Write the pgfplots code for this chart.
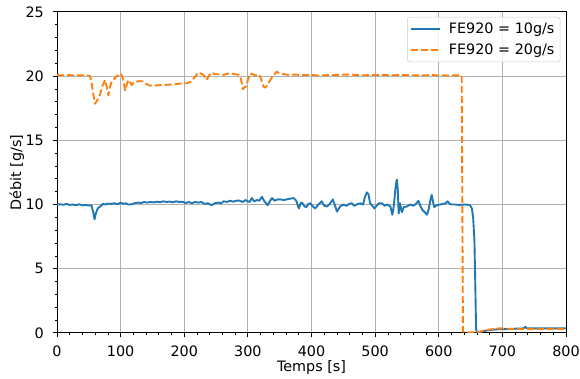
\documentclass[border=0pt]{standalone}
\usepackage{fontspec}
\setmainfont{DejaVu Sans}
\usepackage{pgfplots}
\pgfplotsset{compat=1.18}
\definecolor{Cblue}{HTML}{1F77B4}
\definecolor{Corange}{HTML}{FF7F0E}
\definecolor{gridgray}{HTML}{B0B0B0}
\definecolor{legframe}{HTML}{CCCCCC}
\pgfplotsset{
  legend image code/.code={\draw[#1] (0pt,0pt) -- (23pt,0pt);},
}
\begin{document}
\begin{tikzpicture}[font=\fontsize{11.4}{13.7}\selectfont]
\begin{axis}[
  scale only axis,
  width=404.4pt, height=255pt,
  xmin=0, xmax=800, ymin=0, ymax=25,
  xtick={0,100,...,800}, ytick={0,5,...,25},
  minor x tick num=4, minor y tick num=4,
  grid=major,
  major grid style={color=gridgray, line width=0.8pt},
  tick align=outside, tick pos=left,
  major tick length=3.5pt, minor tick length=2pt,
  major tick style={black, line width=0.8pt},
  minor tick style={black, line width=0.6pt},
  axis line style={black, line width=0.8pt},
  /pgf/number format/assume math mode=true,
  xticklabel style={yshift=-3.5pt},
  yticklabel style={xshift=-3.5pt},
  every axis x label/.style={at={(axis description cs:0.5,0)}, yshift=-27.5pt, anchor=center},
  every axis y label/.style={at={(axis description cs:0,0.5)}, xshift=-31.8pt, rotate=90, anchor=center},
  xlabel={Temps [s]},
  ylabel={Débit [g/s]},
  legend style={at={(rel axis cs:1,1)}, xshift=-4.5pt, yshift=-4pt, anchor=north east,
    draw=legframe, fill=white, fill opacity=0.8, text opacity=1, rounded corners=2pt,
    inner sep=2.5pt, row sep=2.5pt, font=\fontsize{11.4}{13.7}\selectfont,
    /tikz/every odd column/.append style={column sep=4pt}},
  legend cell align=left,
]
\addplot[Cblue, line width=1.5pt, line join=round] table {
t v
0 10.0
5 10.02
10 9.98
15 10.05
20 9.97
25 10.0
30 9.95
35 10.02
40 9.93
45 9.97
50 9.92
54 9.95
57 9.4
59 8.85
61 9.3
64 9.7
68 9.85
72 10.05
76 10.0
80 10.07
85 10.05
90 10.1
95 10.02
100 10.15
104 10.05
108 10.1
112 10.0
117 10.02
122 10.1
127 10.15
132 10.12
137 10.2
142 10.15
147 10.2
152 10.17
157 10.22
162 10.18
167 10.25
172 10.2
177 10.23
182 10.17
187 10.25
192 10.2
197 10.22
202 10.12
207 10.2
212 10.1
217 10.2
222 10.15
227 10.2
232 10.05
237 10.1
243 9.95
248 10.1
253 10.15
258 10.1
262 10.25
267 10.2
272 10.3
277 10.22
282 10.3
287 10.3
292 10.2
296 10.35
300 10.25
303 10.2
306 10.5
310 10.25
314 10.35
318 10.3
322 10.6
326 10.25
331 9.95
335 10.3
338 10.5
342 10.3
347 10.4
351 10.4
356 10.35
361 10.4
366 10.45
372 10.5
376 10.3
380 9.7
383 10.1
385 10.15
389 9.85
392 9.8
395 10.05
398 10.1
401 9.9
405.7 9.7
410 9.95
416 10.25
420 9.9
424 9.85
428 10.0
433.5 10.4
437 9.9
440 9.45
445 9.85
450 10.0
455 9.9
459 10.05
463.5 10.1
467 9.9
471 10.0
476.6 10.1
481 10.0
484 10.6
487 10.95
489.5 10.8
492 10.1
495 9.95
498.7 9.7
503 9.95
506 10.1
510.7 10.1
515 9.9
519 10.0
524 9.85
527 9.2
528.5 9.6
530 10.25
532 11.3
534 11.95
535.5 11.2
537 9.3
539 10.1
542 9.4
545 9.8
550 9.85
555 10.0
560 9.9
565 10.1
568 10.3
571 9.9
574 9.6
578 9.4
581.5 9.2
584 9.6
587 10.4
589 10.75
591 10.2
593 9.8
597 9.95
602 10.0
607 10.05
611 10.1
614 10.25
617 10.05
621 10.0
626 10.0
631 9.97
636 9.98
641 10.0
646 9.98
649 9.95
652 9.7
654 9.0
656 7.2
657.5 3.5
658.6 0.3
660 0.05
664 0.05
668 0.1
672 0.15
678 0.22
685 0.25
692 0.28
700 0.3
710 0.3
720 0.33
730 0.33
734 0.38
736 0.48
738 0.36
745 0.35
760 0.35
780 0.35
800 0.35
};
\addlegendentry{FE920 = 10g/s}
\addplot[Corange, line width=1.5pt, dash pattern=on 5.55pt off 2.4pt, line join=round] table {
t v
0 20.08
10 20.06
20 20.08
30 20.05
40 20.07
49 20.05
52 20.0
54.5 19.45
57 18.6
59.7 17.85
63 18.1
67.6 18.55
71 19.2
75.5 19.7
78 19.2
80.7 18.5
83 19.1
86 19.6
90 19.8
93.8 20.0
97 20.05
100.6 20.2
103 19.9
107 18.9
110 19.4
112 19.7
115 19.5
117.4 19.3
120 19.5
122.6 19.55
128 19.6
135.7 19.6
140 19.4
146 19.25
150 19.3
155 19.28
162 19.3
170 19.32
180 19.35
190 19.4
198.6 19.45
205 19.45
211.7 19.6
216 19.9
222 20.27
226 20.2
230 20.1
233 19.9
235 19.7
239 20.05
243 20.27
248 20.15
256 20.15
262 20.1
268 20.2
274.6 20.2
280 20.15
286 20.1
289 19.8
292 18.98
294 19.1
297.2 19.2
300 19.7
303.5 20.2
308 20.15
312 20.05
316.5 20.15
320 19.9
324.4 19.2
327 19.1
330 19.25
334 19.6
339 20.0
345.4 20.35
350 20.2
356 20.15
365 20.1
375 20.12
385 20.08
398 20.1
410 20.05
425 20.08
440 20.1
455 20.12
470 20.1
480 20.07
495 20.08
510 20.1
525 20.06
540 20.1
555 20.08
570 20.05
585 20.08
600 20.07
615 20.05
625 20.07
636 20.05
638 0.1
645 0.05
655 0.05
660 0.05
668 0.15
678 0.25
686 0.3
696 0.36
705 0.33
720 0.3
740 0.32
760 0.3
780 0.32
800 0.32
};
\addlegendentry{FE920 = 20g/s}
\coordinate (ll) at (rel axis cs:0,0);
\coordinate (ur) at (rel axis cs:1,1);
\end{axis}
\pgfresetboundingbox
\path[use as bounding box] ([shift={(-45.3pt,-36.5pt)}]ll) rectangle ([shift={(11.1pt,9.5pt)}]ur);
\end{tikzpicture}
\end{document}
